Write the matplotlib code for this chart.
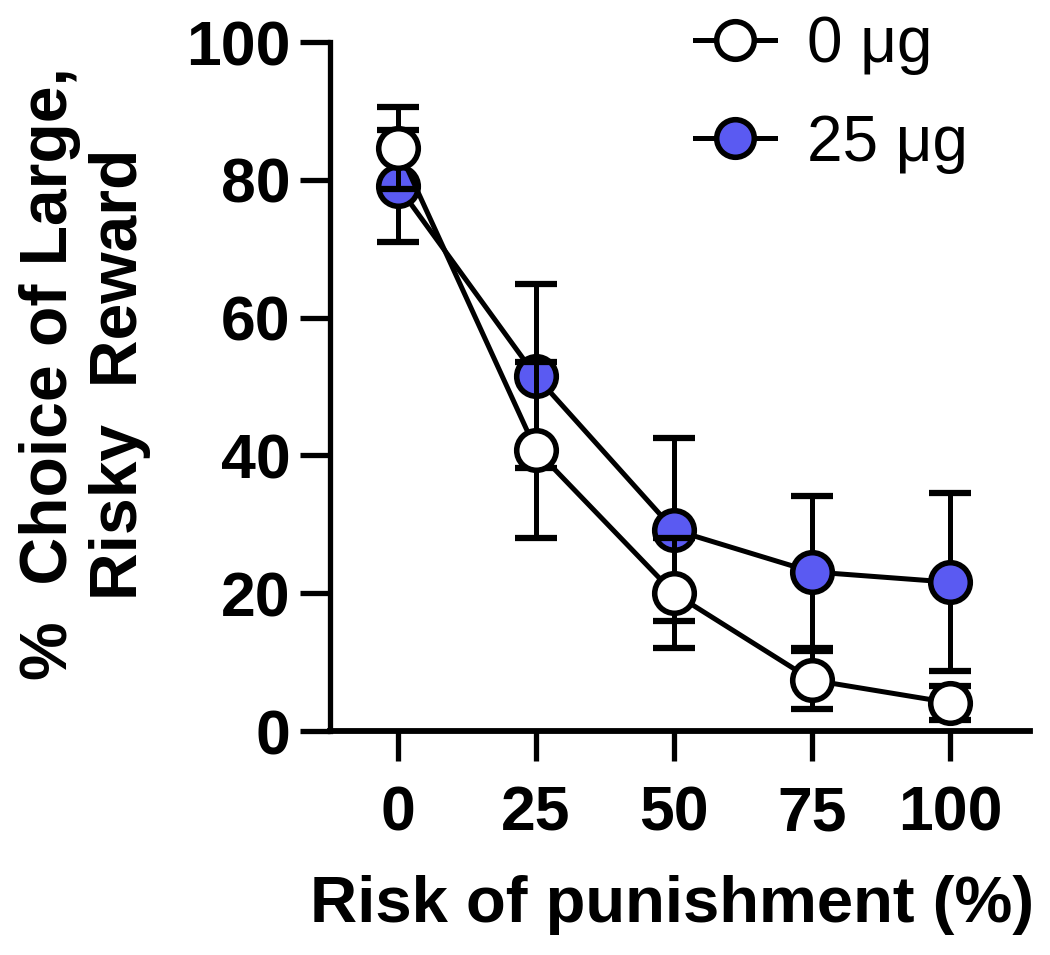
import matplotlib
matplotlib.use("Agg")
import matplotlib.pyplot as plt

plt.rcParams['font.family'] = ['Liberation Sans', 'DejaVu Sans']

risk = [0, 25, 50, 75, 100]
xticks = [0, 25, 50, 75, 100]
yticks = [0, 20, 40, 60, 80, 100]

veh_mean = [84.6, 40.8, 20.0, 7.4, 4.1]
veh_sem = [6.0, 12.8, 8.0, 4.2, 2.5]
drug_mean = [79.1, 51.5, 29.2, 23.1, 21.6]
drug_sem = [8.1, 13.4, 13.3, 11.0, 12.9]

labels = ["0 \u03bcg", "25 \u03bcg"]
blue = "#5A5AF2"

fig = plt.figure(figsize=(10.5, 9.55), dpi=100)
ax = fig.add_axes([330 / 1050, 1 - 731 / 955, 700 / 1050, 689 / 955])

lw = 3.6
ms = 28.5
mew = 4.0

# 25 ug first (drawn underneath)
ax.errorbar(risk, drug_mean, yerr=drug_sem, fmt="none", ecolor="black",
            elinewidth=lw, capsize=15, capthick=4.5, zorder=2)
ax.plot(risk, drug_mean, "-o", color="black", lw=lw, ms=ms, mew=mew,
        mfc=blue, mec="black", zorder=3, label=labels[1])

# 0 ug on top
ax.errorbar(risk, veh_mean, yerr=veh_sem, fmt="none", ecolor="black",
            elinewidth=lw, capsize=15, capthick=4.5, zorder=4)
ax.plot(risk, veh_mean, "-o", color="black", lw=lw, ms=ms, mew=mew,
        mfc="white", mec="black", zorder=5, label=labels[0])

ax.set_xlim(-12.3, 114.5)
ax.set_ylim(0, 100)
ax.set_xticks(xticks)
ax.set_yticks(yticks)

for s in ["top", "right"]:
    ax.spines[s].set_visible(False)
ax.spines["left"].set_linewidth(3.8)
ax.spines["bottom"].set_linewidth(4.2)
ax.tick_params(axis="both", width=3.8, length=21.6, labelsize=45)
ax.tick_params(axis="x", pad=17)
ax.tick_params(axis="y", pad=7)
for t in ax.get_xticklabels() + ax.get_yticklabels():
    t.set_fontweight("bold")

fig.text(0.640, 1 - 922 / 955, "Risk of punishment (%)", fontsize=47,
         fontweight="bold", ha="center", va="baseline")
fig.text(0.081, 1 - 374 / 955, "%  Choice of Large,\nRisky  Reward",
         fontsize=47.5, fontweight="bold", rotation=90, ha="center",
         va="center", multialignment="center", linespacing=1.18)

h, l = ax.get_legend_handles_labels()
ax.legend(h[::-1], l[::-1], loc="upper left", bbox_to_anchor=(0.662, 0.984),
          bbox_transform=fig.transFigure, frameon=False, fontsize=46,
          borderpad=0, borderaxespad=0, handlelength=1.25,
          handletextpad=0.5, labelspacing=0.6, markerscale=0.95)

fig.savefig("out.png", dpi=100)
